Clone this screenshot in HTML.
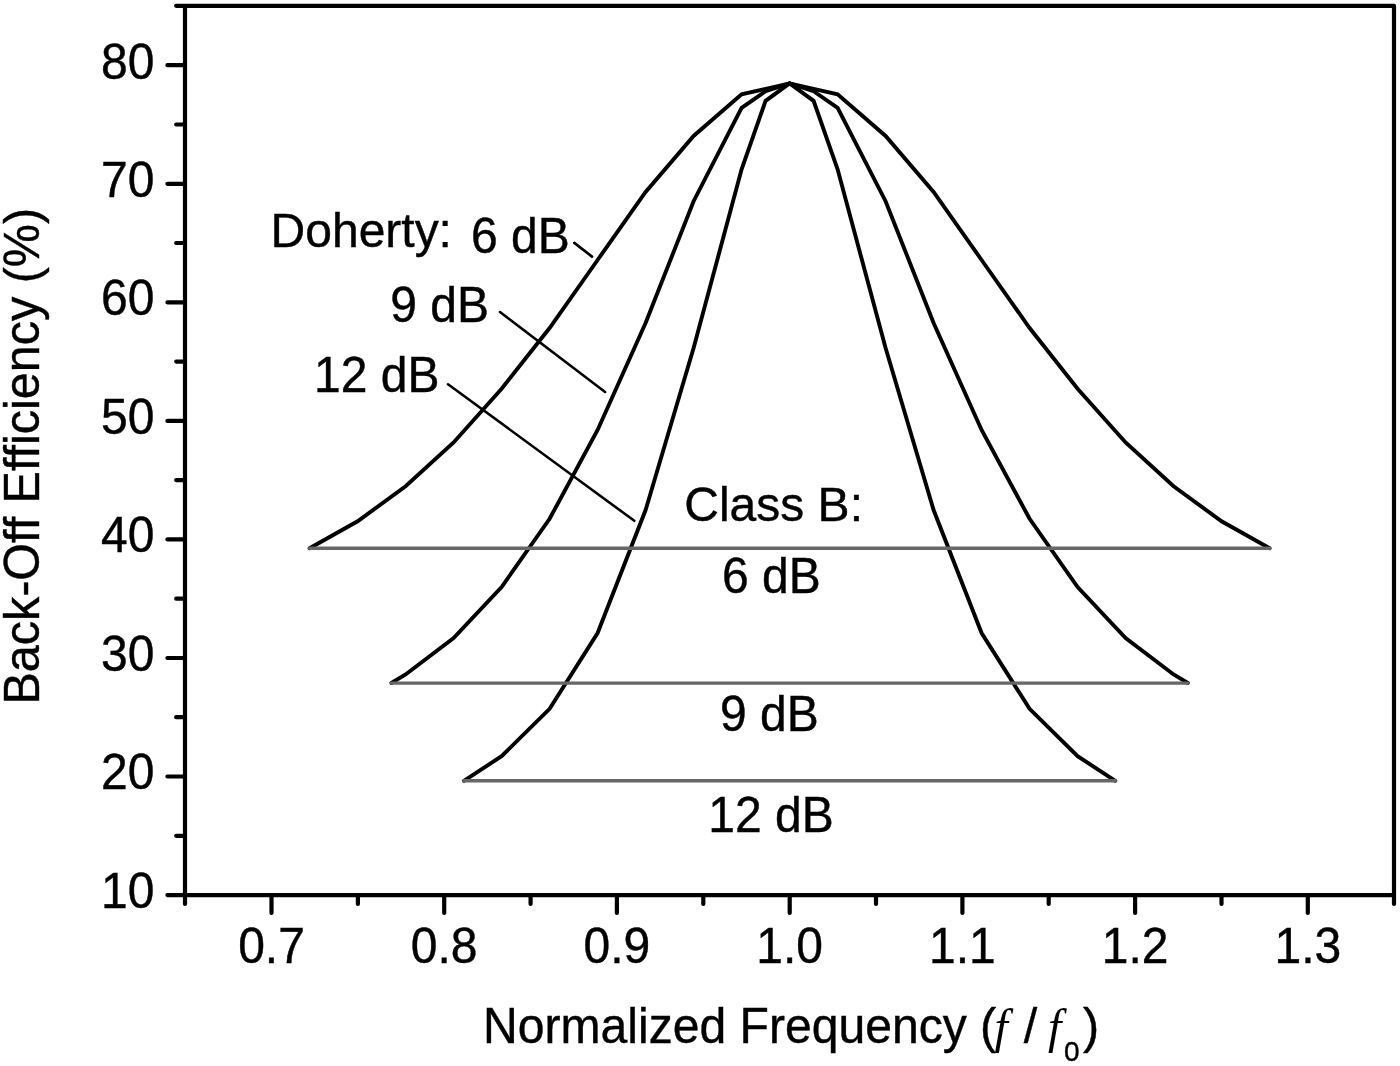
<!DOCTYPE html>
<html lang="en"><head><meta charset="utf-8"><title>Back-Off Efficiency vs Normalized Frequency</title>
<style>
html,body{margin:0;padding:0;background:#fff;}
body{width:1400px;height:1066px;overflow:hidden;}
svg{display:block;}
text{font-family:"Liberation Sans",Arial,Helvetica,sans-serif;font-size:48px;fill:#000;stroke:#000;stroke-width:0.4px;}
text.ttl{font-size:48.5px;}
.it{font-family:"Liberation Serif","Times New Roman",serif;font-style:italic;font-size:48px;stroke:none;}
.nf{font-size:48.1px;}
.sub{font-size:28px;}
</style></head><body>
<svg width="1400" height="1066" viewBox="0 0 1400 1066">
<rect width="1400" height="1066" fill="#fff"/>
<polyline points="309.6,548.3 357.6,521.3 405.6,486.3 453.6,442.5 501.6,388.8 549.6,328.0 597.6,260.0 645.6,192.0 693.6,136.0 741.6,94.3 789.6,83.4 837.6,94.3 885.6,136.0 933.6,192.0 981.6,260.0 1029.6,328.0 1077.6,388.8 1125.6,442.5 1173.6,486.3 1221.6,521.3 1269.6,548.3" fill="none" stroke="#000" stroke-width="3.9" stroke-linejoin="miter" stroke-linecap="round"/>
<polyline points="391.4,683.0 405.6,674.5 453.6,638.0 501.6,587.0 549.6,518.8 597.6,430.0 645.6,323.0 693.6,201.2 741.6,107.8 765.6,91.2 789.6,83.4 813.6,91.2 837.6,107.8 885.6,201.2 933.6,323.0 981.6,430.0 1029.6,518.8 1077.6,587.0 1125.6,638.0 1173.6,674.5 1187.8,683.0" fill="none" stroke="#000" stroke-width="3.9" stroke-linejoin="miter" stroke-linecap="round"/>
<polyline points="463.9,780.8 501.6,756.2 549.6,708.8 597.6,633.0 645.6,510.0 693.6,348.0 741.6,169.3 765.6,100.8 789.6,83.4 813.6,100.8 837.6,169.3 885.6,348.0 933.6,510.0 981.6,633.0 1029.6,708.8 1077.6,756.2 1115.3,780.8" fill="none" stroke="#000" stroke-width="3.9" stroke-linejoin="miter" stroke-linecap="round"/>
<line x1="309.6" y1="548.2" x2="1269.6" y2="548.2" stroke="#676767" stroke-width="3.4" stroke-linecap="round"/>
<line x1="391.4" y1="683.1" x2="1187.8" y2="683.1" stroke="#676767" stroke-width="3.4" stroke-linecap="round"/>
<line x1="463.9" y1="780.7" x2="1115.3" y2="780.7" stroke="#676767" stroke-width="3.4" stroke-linecap="round"/>
<path d="M176.2 5.8 H1394.0 V903.9 M185.0 5.8 V903.9 M167.4 895.1 H1394.0" fill="none" stroke="#000" stroke-width="4.2" stroke-linecap="round" stroke-linejoin="round"/>
<path d="M176.2 835.8 H185.0 M167.4 776.5 H185.0 M176.2 717.2 H185.0 M167.4 658.0 H185.0 M176.2 598.7 H185.0 M167.4 539.4 H185.0 M176.2 480.1 H185.0 M167.4 420.9 H185.0 M176.2 361.6 H185.0 M167.4 302.3 H185.0 M176.2 243.0 H185.0 M167.4 183.8 H185.0 M176.2 124.5 H185.0 M167.4 65.2 H185.0 M271.5 896.1 V912.9 M357.9 896.1 V903.9 M444.2 896.1 V912.9 M530.6 896.1 V903.9 M616.9 896.1 V912.9 M703.3 896.1 V903.9 M789.7 896.1 V912.9 M876.0 896.1 V903.9 M962.4 896.1 V912.9 M1048.7 896.1 V903.9 M1135.1 896.1 V912.9 M1221.5 896.1 V903.9 M1307.8 896.1 V912.9" fill="none" stroke="#000" stroke-width="4.2" stroke-linecap="round"/>
<path d="M574.3 242.9 L592 256.6 M500 312 L605.1 392 M448 384.3 L634.3 520.8" fill="none" stroke="#000" stroke-width="2.6" stroke-linecap="round"/>
<text transform="translate(154.5,907.8) scale(1,1.04)" text-anchor="end">10</text>
<text transform="translate(154.5,789.3) scale(1,1.04)" text-anchor="end">20</text>
<text transform="translate(154.5,670.9) scale(1,1.04)" text-anchor="end">30</text>
<text transform="translate(154.5,552.4) scale(1,1.04)" text-anchor="end">40</text>
<text transform="translate(154.5,433.9) scale(1,1.04)" text-anchor="end">50</text>
<text transform="translate(154.5,315.4) scale(1,1.04)" text-anchor="end">60</text>
<text transform="translate(154.5,197.0) scale(1,1.04)" text-anchor="end">70</text>
<text transform="translate(154.5,78.5) scale(1,1.04)" text-anchor="end">80</text>
<text transform="translate(271.5,962.6) scale(1,1.04)" text-anchor="middle">0.7</text>
<text transform="translate(444.2,962.6) scale(1,1.04)" text-anchor="middle">0.8</text>
<text transform="translate(616.9,962.6) scale(1,1.04)" text-anchor="middle">0.9</text>
<text transform="translate(789.7,962.6) scale(1,1.04)" text-anchor="middle">1.0</text>
<text transform="translate(962.4,962.6) scale(1,1.04)" text-anchor="middle">1.1</text>
<text transform="translate(1135.1,962.6) scale(1,1.04)" text-anchor="middle">1.2</text>
<text transform="translate(1307.8,962.6) scale(1,1.04)" text-anchor="middle">1.3</text>
<text transform="translate(270.6,247.3) scale(1,1.02)">Doherty:</text>
<text transform="translate(471.0,252.7) scale(1,1.04)">6 dB</text>
<text transform="translate(390.2,322.0) scale(1,1.04)">9 dB</text>
<text transform="translate(314.0,392.0) scale(1,1.04)">12 dB</text>
<text transform="translate(684.3,520.6) scale(1,1.02)">Class B:</text>
<text transform="translate(722.0,593.0) scale(1,1.04)">6 dB</text>
<text transform="translate(720.0,731.3) scale(1,1.04)">9 dB</text>
<text transform="translate(708.3,831.8) scale(1,1.04)">12 dB</text>
<text transform="translate(39.3,704.6) rotate(-90) scale(1,1.02)" class="ttl">Back-Off Efficiency (%)</text>
<text transform="translate(0,1043.2) scale(1,1.02)" class="ttl"><tspan x="483" class="nf">Normalized Frequency</tspan> <tspan x="980.1">(</tspan><tspan class="it" x="994.6">f</tspan><tspan x="1023.8">/</tspan><tspan class="it" x="1048">f</tspan><tspan class="sub" x="1063.9" dy="17.8">0</tspan><tspan x="1083" dy="-17.8">)</tspan></text>
</svg>
</body></html>
